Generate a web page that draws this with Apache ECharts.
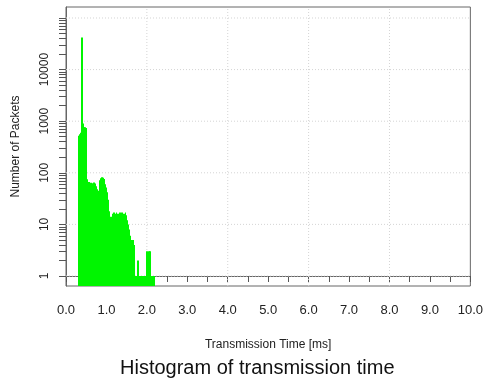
<!DOCTYPE html>
<html>
<head>
<meta charset="utf-8">
<script src="https://cdn.jsdelivr.net/npm/echarts@6/dist/echarts.min.js"></script>
<style>html,body{margin:0;padding:0;background:#fff}#c{width:486px;height:383px}</style>
</head>
<body>
<div id="c"></div>
<script>
// Histogram bins (start time in ms, bin width 0.02 ms) and packet counts
const binStart = 0.30;
const binWidth = 0.02;
const counts = [
  480, 520, 560, 600, 42000, 3000, 900, 760, 760, 740,   // 0.30 - 0.48
  75, 68, 62, 66, 60, 64, 58, 63, 60, 65,                 // 0.50 - 0.68
  58, 62, 55, 48, 38, 45, 60, 72, 78, 82,                 // 0.70 - 0.88
  80, 76, 68, 60, 52, 42, 30, 24, 18, 14,                 // 0.90 - 1.08
  12, 14, 16, 15, 17, 16, 14, 17, 15, 16,                 // 1.10 - 1.28
  13, 17, 16, 15, 17, 14, 16, 13, 17, 15,                 // 1.30 - 1.48
  12, 10, 8, 7, 6, 5, 5, 4, 5, 4,                         // 1.50 - 1.68
  1, 1, 1, 1, 2, 1, 1, 1, 1, 1,                           // 1.70 - 1.88
  1, 1, 1, 1, 1, 3, 1, 3, 3, 1,                           // 1.90 - 2.08
  0, 1, 1, 1, 1                                           // 2.10 - 2.18
];
const xTickLabels = [0,1,2,3,4,5,6,7,8,9,10];
const yTickLabels = [1, 10, 100, 1000, 10000];
const yGridValues = [1, 10, 100, 1000, 10000, 100000];
const xGridValues = [2, 4, 6, 8];

const LOGMIN = -0.194, LOGMAX = 5.213;

const binData = [];
counts.forEach((c, i) => {
  if (c > 0) {
    const t0 = +(binStart + i * binWidth).toFixed(2);
    binData.push([t0, +(t0 + binWidth).toFixed(2), Math.log10(c)]);
  }
});

const minorTicks = [];
for (let n = 0; n <= 5; n++) for (let k = 1; k <= 9; k++) {
  const l = Math.log10(k * Math.pow(10, n));
  if (l <= LOGMAX) minorTicks.push(l);
}

const gridStyle = { color: '#d4d4d4', type: [1, 2], width: 1 };
const gridSeries = yGridValues.map(v => ({
  type: 'line', z: 1, silent: true, showSymbol: false, animation: false,
  lineStyle: gridStyle, data: [[0, Math.log10(v)], [10, Math.log10(v)]]
})).concat(xGridValues.map(v => ({
  type: 'line', z: 1, silent: true, showSymbol: false, animation: false,
  lineStyle: gridStyle, data: [[v, LOGMIN], [v, LOGMAX]]
})));

const font = 'Liberation Sans, Arial, sans-serif';
const chart = echarts.init(document.getElementById('c'));
chart.setOption({
  animation: false,
  backgroundColor: '#fff',
  title: {
    text: 'Histogram of transmission time',
    left: 115, top: 353,
    textStyle: { fontFamily: font, fontSize: 20, fontWeight: 'normal', color: '#111' }
  },
  grid: { left: 66, right: 14, top: 7, bottom: 97, show: true, borderColor: '#666', borderWidth: 1 },
  xAxis: {
    type: 'value', min: 0, max: 10, interval: 0.5,
    name: 'Transmission Time [ms]', nameLocation: 'middle', nameGap: 53,
    nameTextStyle: { fontFamily: font, fontSize: 12, color: '#222' },
    axisLine: { show: true, lineStyle: { color: '#666' } },
    axisTick: { show: true, length: 6, inside: false, lineStyle: { color: '#555' } },
    axisLabel: {
      customValues: xTickLabels, margin: 18,
      formatter: v => Number(v).toFixed(1),
      fontFamily: font, fontSize: 13, color: '#222'
    },
    splitLine: { show: false }
  },
  yAxis: {
    type: 'value', min: LOGMIN, max: LOGMAX,
    name: 'Number of Packets', nameLocation: 'middle', nameGap: 44,
    nameTextStyle: { fontFamily: font, fontSize: 12, color: '#222' },
    axisLine: { show: true, lineStyle: { color: '#666' } },
    axisTick: { show: true, length: 7, customValues: minorTicks, lineStyle: { color: '#555' } },
    axisLabel: {
      customValues: yTickLabels.map(v => Math.log10(v)), rotate: 90, margin: 15,
      formatter: v => String(Math.round(Math.pow(10, v))),
      fontFamily: font, fontSize: 12, color: '#222'
    },
    splitLine: { show: false }
  },
  series: gridSeries.concat([
    {
      type: 'custom', z: 10, silent: true,
      data: binData,
      encode: { x: [0, 1], y: 2 },
      renderItem: (params, api) => {
        const p0 = api.coord([api.value(0), api.value(2)]);
        const p1 = api.coord([api.value(1), LOGMIN]);
        const x0 = Math.floor(p0[0]);
        const x1 = Math.max(Math.ceil(p1[0]), x0 + 1);
        return {
          type: 'rect',
          shape: { x: x0, y: p0[1], width: x1 - x0, height: p1[1] - p0[1] },
          style: { fill: '#00f500', stroke: null }
        };
      }
    }
  ])
});
</script>
</body>
</html>
